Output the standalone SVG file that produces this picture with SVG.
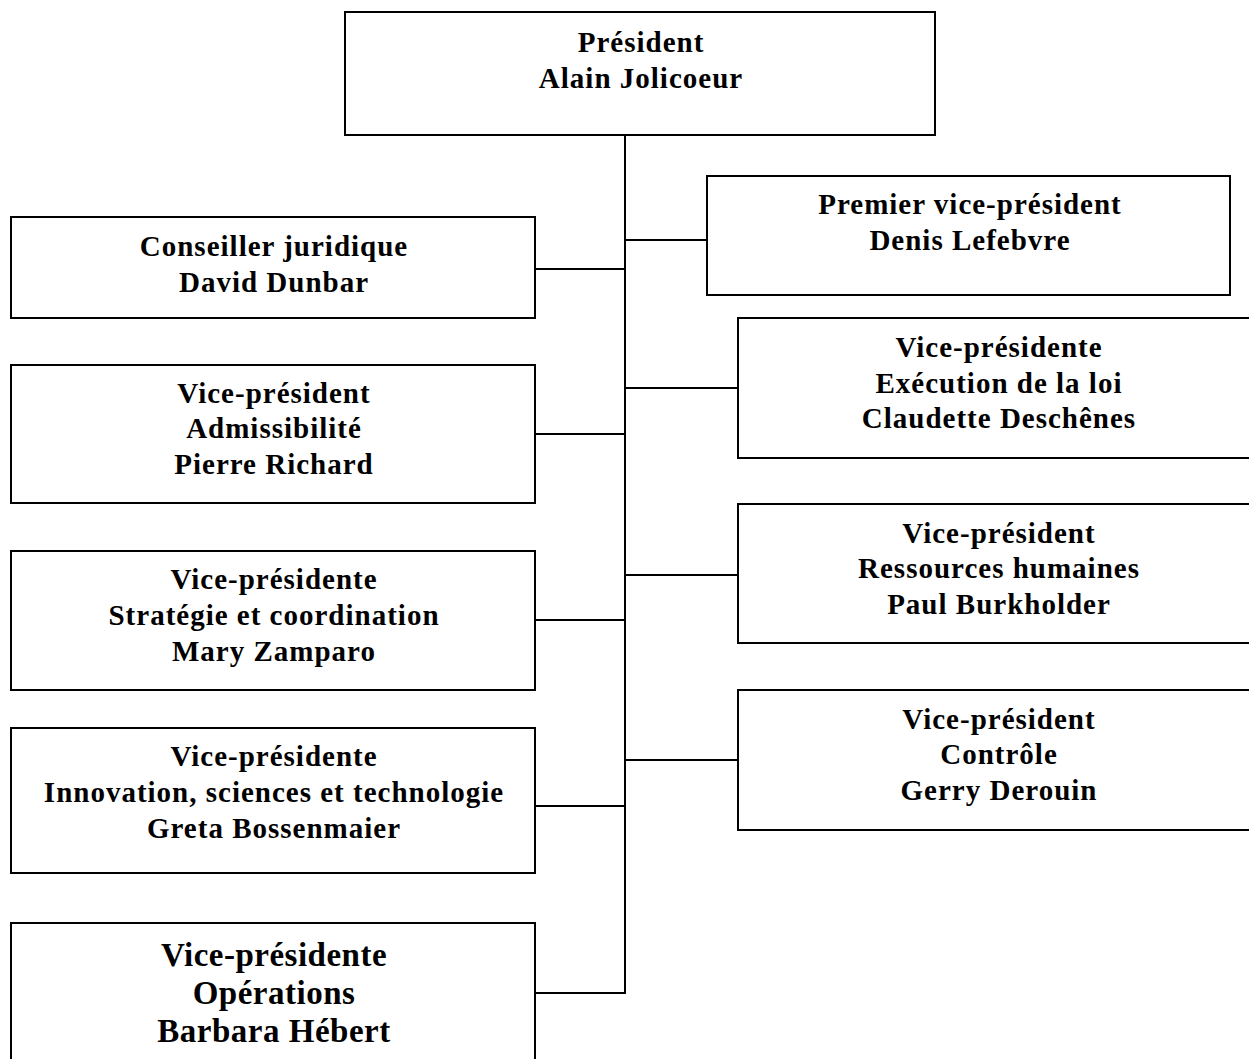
<svg xmlns="http://www.w3.org/2000/svg" width="1249" height="1059" viewBox="0 0 1249 1059">
<style>
.box{fill:#fff;stroke:#000;stroke-width:2}
.t{font-family:"Liberation Serif","DejaVu Serif",serif;font-weight:bold;font-size:29px;letter-spacing:1px;text-anchor:middle;fill:#000}
.big{font-size:33px;letter-spacing:0.5px}
.c{stroke:#000;stroke-width:2;fill:none}
</style>
<rect width="1249" height="1059" fill="#fff"/>
<g id="connectors">
<line class="c" x1="625" y1="135" x2="625" y2="994"/>
<line class="c" x1="535" y1="269" x2="625" y2="269"/>
<line class="c" x1="625" y1="240" x2="707" y2="240"/>
<line class="c" x1="625" y1="388" x2="738" y2="388"/>
<line class="c" x1="535" y1="434" x2="625" y2="434"/>
<line class="c" x1="625" y1="575" x2="738" y2="575"/>
<line class="c" x1="535" y1="620" x2="625" y2="620"/>
<line class="c" x1="625" y1="760" x2="738" y2="760"/>
<line class="c" x1="535" y1="806" x2="625" y2="806"/>
<line class="c" x1="535" y1="993" x2="625" y2="993"/>
</g>
<g id="president">
<rect class="box" x="345" y="12" width="590" height="123"/>
<text class="t" x="641" y="52">Président</text>
<text class="t" x="641" y="88">Alain Jolicoeur</text>
</g>
<g id="conseiller">
<rect class="box" x="11" y="217" width="524" height="101"/>
<text class="t" x="274" y="256">Conseiller juridique</text>
<text class="t" x="274" y="292">David Dunbar</text>
</g>
<g id="premier">
<rect class="box" x="707" y="176" width="523" height="119"/>
<text class="t" x="970" y="214">Premier vice-président</text>
<text class="t" x="970" y="250">Denis Lefebvre</text>
</g>
<g id="execution">
<rect class="box" x="738" y="318" width="530" height="140"/>
<text class="t" x="999" y="357">Vice-présidente</text>
<text class="t" x="999" y="393">Exécution de la loi</text>
<text class="t" x="999" y="428">Claudette Deschênes</text>
</g>
<g id="admissibilite">
<rect class="box" x="11" y="365" width="524" height="138"/>
<text class="t" x="274" y="403">Vice-président</text>
<text class="t" x="274" y="438">Admissibilité</text>
<text class="t" x="274" y="474">Pierre Richard</text>
</g>
<g id="rh">
<rect class="box" x="738" y="504" width="530" height="139"/>
<text class="t" x="999" y="543">Vice-président</text>
<text class="t" x="999" y="578">Ressources humaines</text>
<text class="t" x="999" y="614">Paul Burkholder</text>
</g>
<g id="strategie">
<rect class="box" x="11" y="551" width="524" height="139"/>
<text class="t" x="274" y="589">Vice-présidente</text>
<text class="t" x="274" y="625">Stratégie et coordination</text>
<text class="t" x="274" y="661">Mary Zamparo</text>
</g>
<g id="controle">
<rect class="box" x="738" y="690" width="530" height="140"/>
<text class="t" x="999" y="729">Vice-président</text>
<text class="t" x="999" y="764">Contrôle</text>
<text class="t" x="999" y="800">Gerry Derouin</text>
</g>
<g id="innovation">
<rect class="box" x="11" y="728" width="524" height="145"/>
<text class="t" x="274" y="766">Vice-présidente</text>
<text class="t" x="274" y="802">Innovation, sciences et technologie</text>
<text class="t" x="274" y="838">Greta Bossenmaier</text>
</g>
<g id="operations">
<rect class="box" x="11" y="923" width="524" height="150"/>
<text class="t big" x="274" y="966">Vice-présidente</text>
<text class="t big" x="274" y="1004">Opérations</text>
<text class="t big" x="274" y="1042">Barbara Hébert</text>
</g>
</svg>
